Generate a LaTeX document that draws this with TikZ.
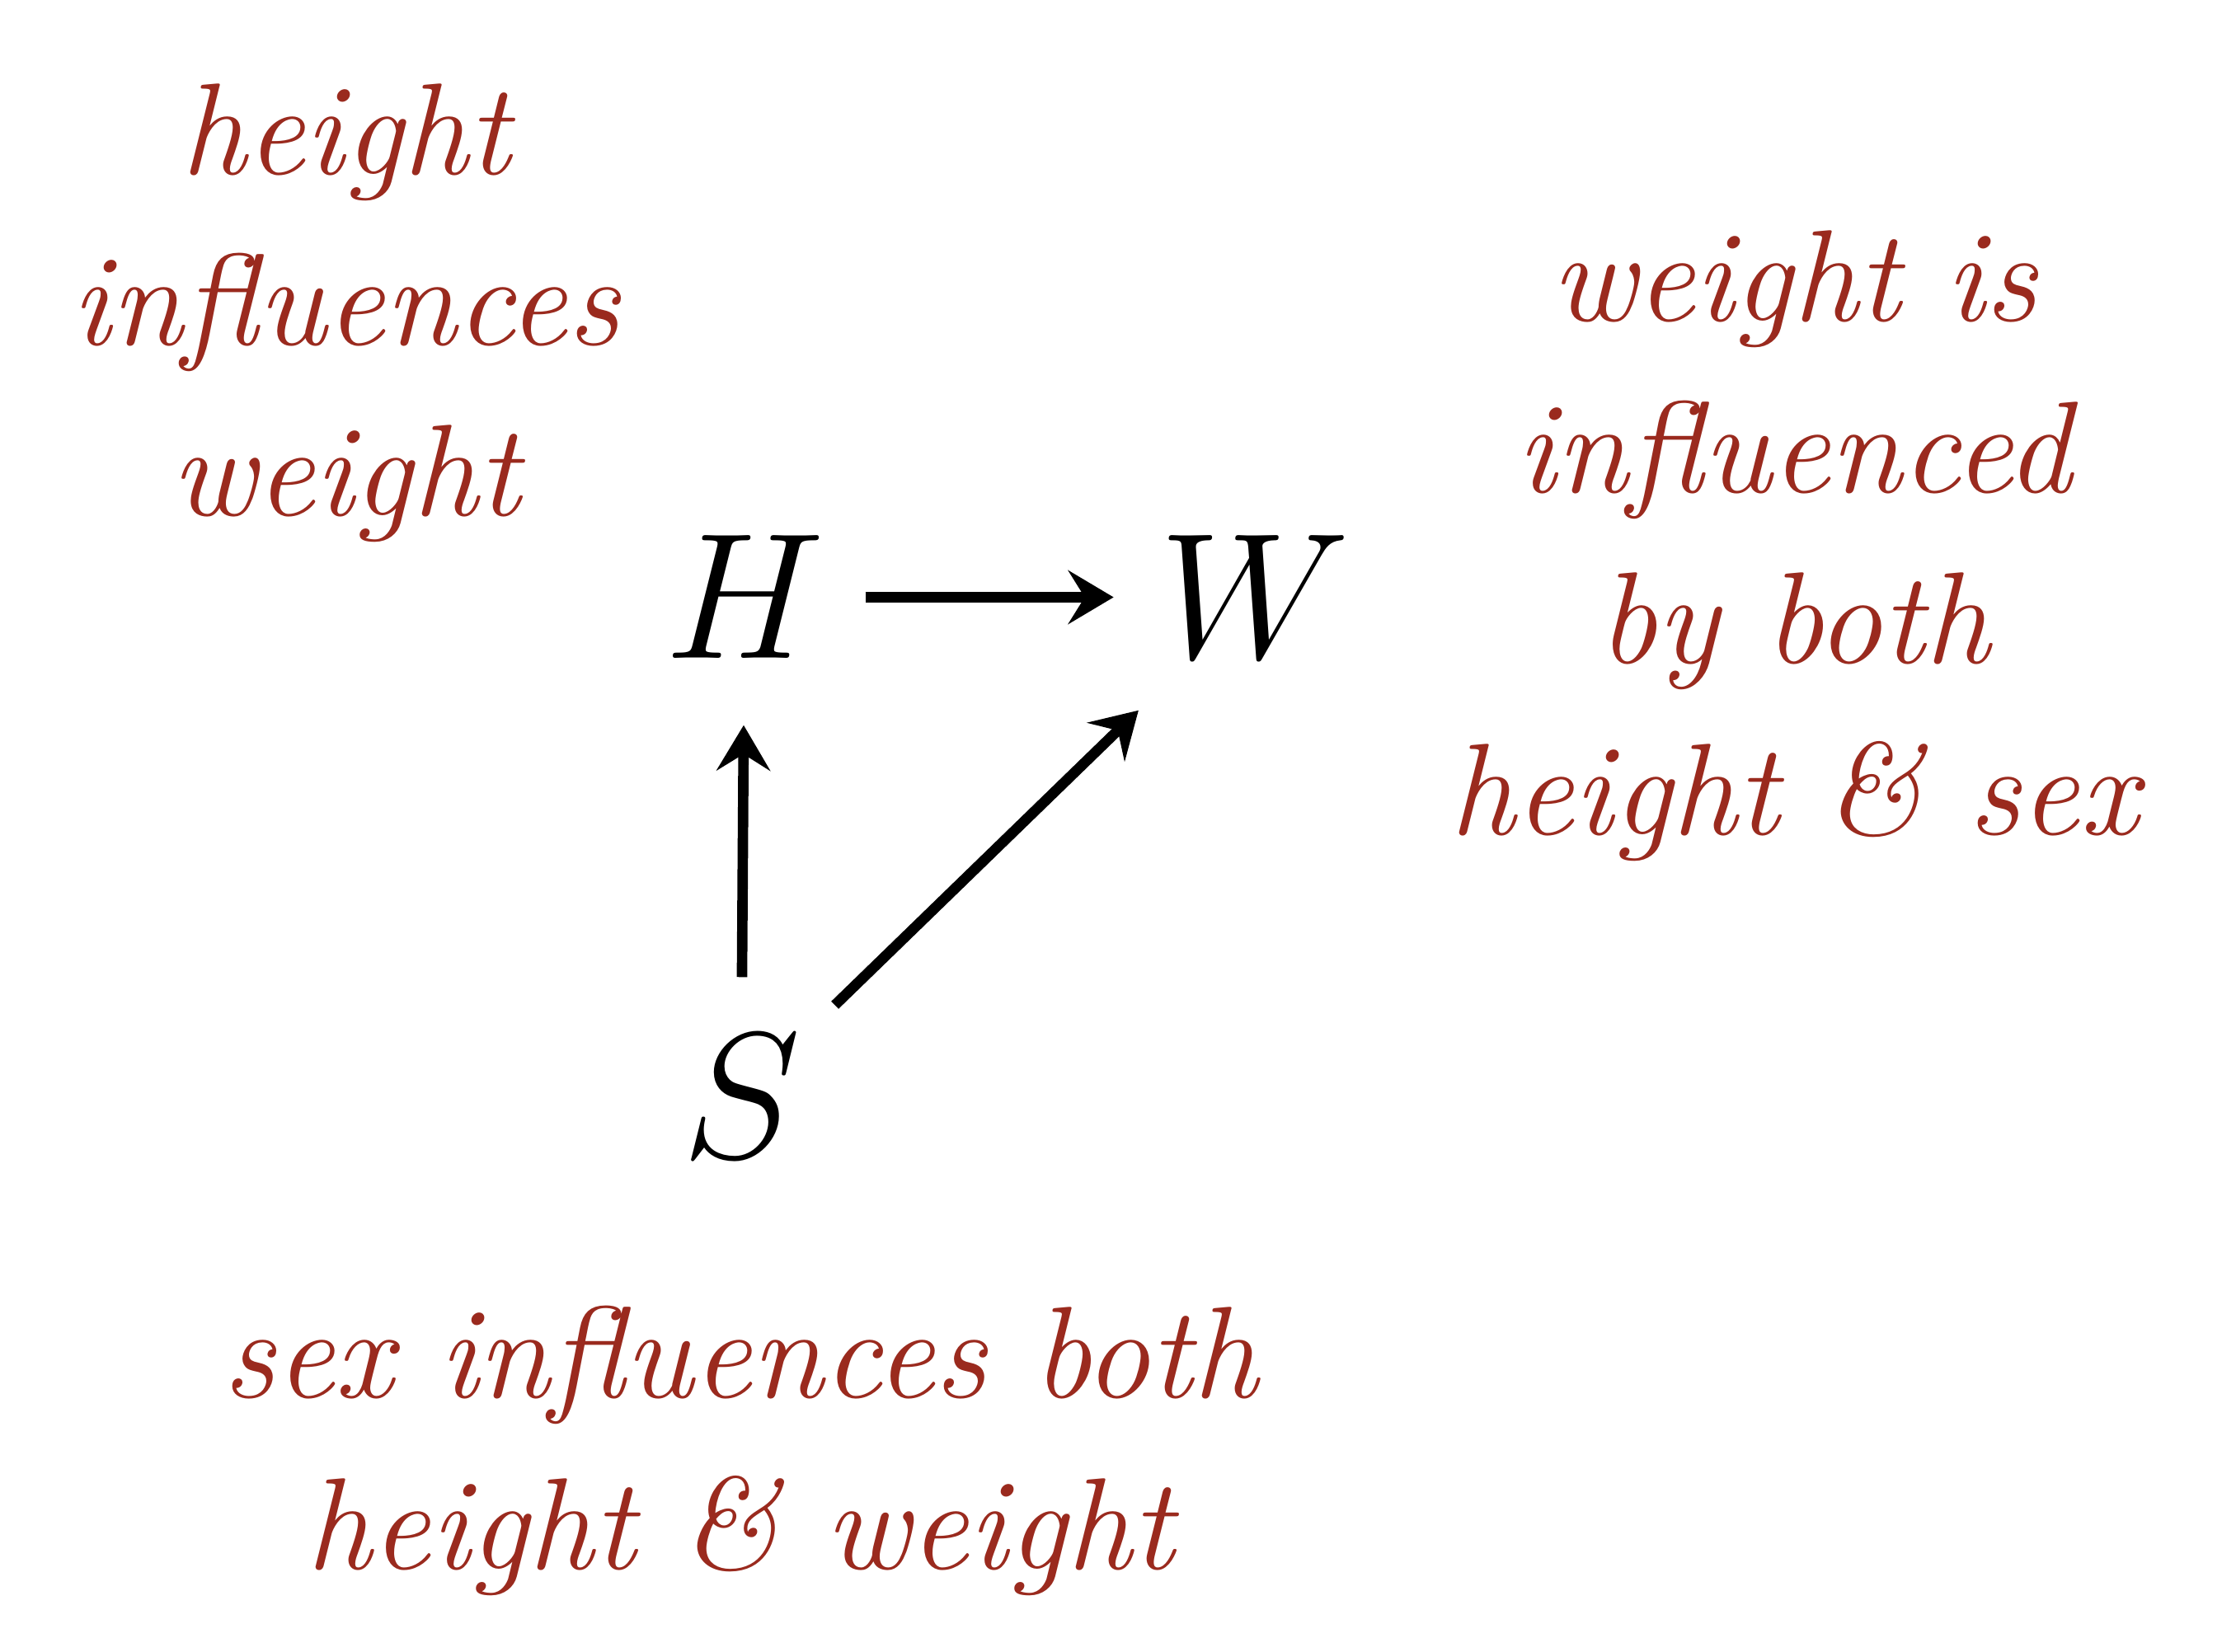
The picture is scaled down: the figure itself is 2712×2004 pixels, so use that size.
\documentclass[tikz,border=0pt]{standalone}
\usepackage{fix-cm}
\usepackage{xcolor}
\usepackage{tikz}
\usetikzlibrary{arrows.meta}

\begin{document}
\begin{tikzpicture}[x=0.01cm,y=-0.01cm,
    var/.style={font=\fontsize{62}{62}\selectfont,inner sep=0pt},
    note/.style={text=notecolor,font=\fontsize{45}{59}\selectfont\itshape,
        align=center,inner sep=0pt},
    arr/.style={-{Stealth[length=5.5mm,width=6.5mm,inset=2mm]},line width=3.6pt}]
    \definecolor{notecolor}{HTML}{9A2A1E}
    \useasboundingbox[fill=white] (0,0) rectangle (2712,2004);
    % the three variables
    \node[var,anchor=base] (H) at (903,799) {$H$};
    \node[var,anchor=base] (W) at (1522,799) {$W$};
    \node[var,anchor=base] (S) at (899,1404) {$S$};
    \draw[arr,shorten <=0.49cm,shorten >=0.55cm] (H) -- (W);
    \draw[arr,shorten <=0.69cm,shorten >=0.80cm] (S) -- (H);
    \draw[arr,shorten <=0.57cm,shorten >=0.89cm] (S) -- (W);
    % notes (base is the last line)
    \node[note,anchor=base] (hnote) at (419,626) {height\\influences\\weight};
    \node[note,anchor=base] (wnote) at (2176,1012) {weight is\\influenced\\by both\\height \& sex};
    \node[note,anchor=base] (snote) at (898,1903) {sex influences both\\height \& weight};
\end{tikzpicture}
\end{document}
